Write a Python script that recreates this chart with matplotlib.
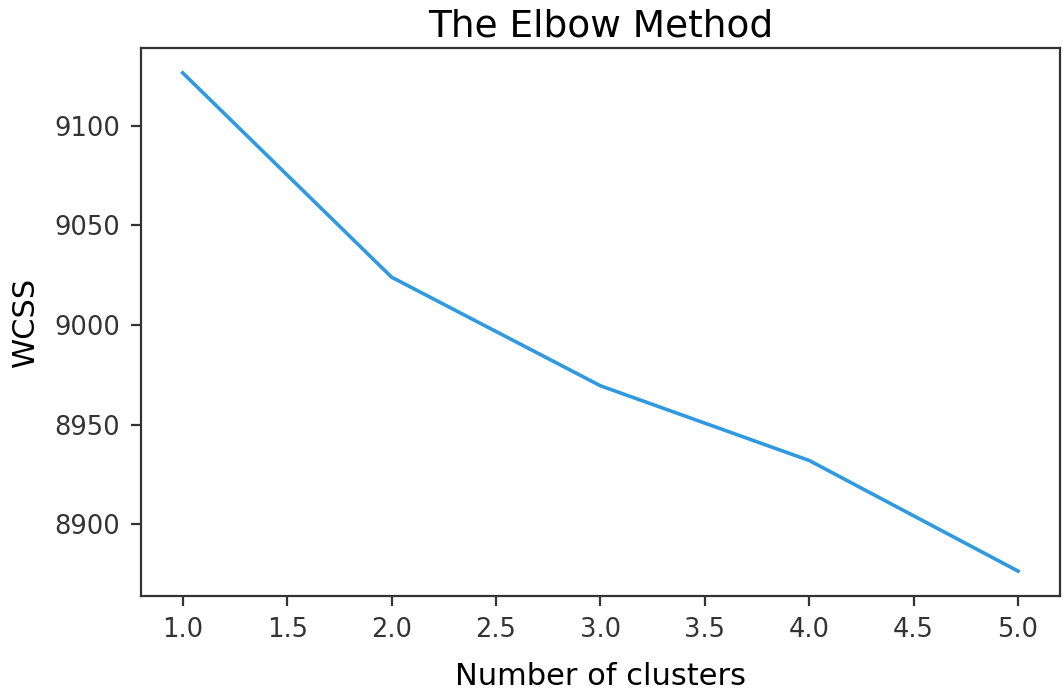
import matplotlib.pyplot as plt

# elbow curve values
clusters = [1, 2, 3, 4, 5]
wcss = [9126.5, 9024.0, 8969.5, 8932.0, 8876.5]

fig = plt.figure(figsize=(10.63, 6.92), dpi=100)
ax = fig.add_axes([0.1326, 0.1387, 0.8644, 0.792])

ax.plot(clusters, wcss, color='#2f9ae0', linewidth=2.6)

ax.set_title('The Elbow Method', fontsize=27, pad=8)
ax.set_xlabel('Number of clusters', fontsize=22, labelpad=14)
ax.set_ylabel('WCSS', fontsize=22, labelpad=10)
ax.set_yticks([8900, 8950, 9000, 9050, 9100])
ax.tick_params(labelsize=18.5, length=7, width=1.6, colors='#333333', pad=8)
for s in ax.spines.values():
    s.set_linewidth(1.6)
    s.set_color('#333333')

fig.savefig('out.png', dpi=100)
